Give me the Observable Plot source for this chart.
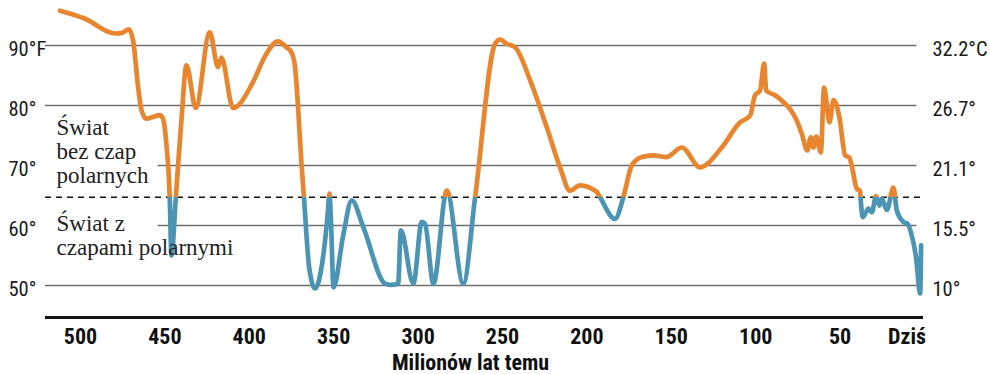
<!DOCTYPE html>
<html><head><meta charset="utf-8">
<script src="https://cdn.jsdelivr.net/npm/d3@7"></script>
<script src="https://cdn.jsdelivr.net/npm/@observablehq/plot@0.6"></script>
<style>
body{margin:0;background:#fff;}
</style>
</head><body><div id="chart"></div>
<script>
// Age (millions of years ago) and temperature (°F)
const ageMa = [512.1,497.6,479.5,475.4,471.3,468.8,465.8,463.8,460.9,457.0,453.0,451.1,449.1,447.1,446.1,443.5,440.2,437.2,431.7,423.4,418.5,416.5,409.6,406.6,397.8,389.9,383.0,378.0,375.1,373.1,371.2,369.2,367.6,364.5,361.0,357.5,353.5,352.5,351.5,350.1,344.2,339.3,332.4,319.6,316.6,311.8,310.2,302.8,297.8,295.9,290.9,283.0,273.2,266.2,254.4,251.4,247.5,242.5,233.6,223.8,215.9,210.0,204.1,194.1,192.2,183.3,178.4,173.4,167.5,160.6,152.7,143.8,132.9,120.1,109.2,103.3,100.4,97.4,95.0,93.8,88.5,82.6,79.6,75.7,72.7,69.4,67.4,65.8,64.2,61.4,59.5,56.3,53.9,50.4,47.0,44.5,43.1,40.1,38.2,37.9,36.6,33.2,31.2,28.7,26.7,25.3,22.3,18.4,16.4,12.5,10.1,7.5,5.0,2.6,2.0];
const tempF = [95.8,94.5,92.0,92.1,92.7,90.8,83.0,79.2,77.8,78.1,78.4,77.8,73.6,64.7,55.0,64.7,77.5,86.7,79.6,92.2,86.4,88.0,79.6,80.0,83.9,88.6,90.7,89.7,88.9,86.9,80.3,70.8,64.7,53.0,49.5,52.5,62.0,65.3,60.0,49.7,58.6,64.2,59.7,50.3,50.1,50.3,59.2,50.3,60.6,60.3,50.3,65.8,50.3,64.7,90.3,91.0,90.3,89.7,84.2,76.4,69.7,65.8,66.7,65.6,64.7,61.1,64.7,70.0,71.4,71.7,71.4,73.0,69.7,73.0,77.2,78.3,81.7,82.5,87.0,82.5,81.7,80.3,79.4,77.5,75.3,72.5,74.7,73.0,74.8,72.2,83.0,77.2,80.9,78.0,71.7,71.3,70.0,66.1,65.8,64.7,61.4,62.8,62.2,64.9,63.3,64.5,62.6,66.3,62.5,60.6,60.3,58.3,54.7,48.7,56.7];

const threshold = 64.7;               // polar ice cap threshold (dashed line)
const leftTicks = [90, 80, 70, 60, 50];
const leftTickLabels = ["90°F", "80°", "70°", "60°", "50°"];
const rightTickLabels = ["32.2°C", "26.7°", "21.1°", "15.5°", "10°"];
const fullGridTicks = [90, 80, 50];
const partGridTicks = [70, 60];
const xTicks = [500, 450, 400, 350, 300, 250, 200, 150, 100, 50];
const xTodayLabel = "Dziś";
const xTitle = "Milionów lat temu";
const noteAbove = "Świat\nbez czap\npolarnych";
const noteBelow = "Świat z\nczapami polarnymi";

const xDomain = [520.7, 0];
const yDomain = [44.67, 97.5];

const data = ageMa.map((a, i) => ({age: a, temp: tempF[i]}));

const sans = "'Liberation Sans Narrow', 'Roboto Condensed', Roboto, sans-serif";
const serif = "'Liberation Serif', 'DejaVu Serif', serif";

const chart = Plot.plot({
  width: 990,
  height: 374,
  marginLeft: 45,
  marginRight: 66,
  marginTop: 0,
  marginBottom: 57,
  x: {domain: xDomain, axis: null},
  y: {domain: yDomain, axis: null},
  style: {background: "white", fontFamily: sans},
  marks: [
    Plot.ruleY(fullGridTicks, {x1: xDomain[0], x2: 4.5, stroke: "#6f6f6f", strokeWidth: 1.5}),
    Plot.ruleY(partGridTicks, {x1: 454, x2: 4.5, stroke: "#6f6f6f", strokeWidth: 1.5}),
    Plot.ruleY([threshold], {x1: xDomain[0], x2: 0.8, stroke: "#111", strokeWidth: 1.5, strokeDasharray: "6,5"}),
    Plot.ruleY([yDomain[0]], {x1: xDomain[0], x2: 0.6, stroke: "#111", strokeWidth: 3}),
    Plot.line(data, {x: "age", y: "temp", stroke: "url(#tempGrad)", strokeWidth: 4.7, curve: "monotone-x", strokeLinejoin: "round", strokeLinecap: "round"}),
    Plot.text(leftTicks, {y: d => d, text: (d, i) => leftTickLabels[i], frameAnchor: "left", textAnchor: "start", lineAnchor: "bottom", dx: -37, dy: 10, fontSize: 20.5, fill: "#1a1a1a"}),
    Plot.text(leftTicks, {y: d => d, text: (d, i) => rightTickLabels[i], frameAnchor: "right", textAnchor: "start", lineAnchor: "bottom", dx: 8, dy: 10, fontSize: 20.5, fill: "#1a1a1a"}),
    Plot.text(xTicks, {x: d => d, text: d => String(d), frameAnchor: "bottom", lineAnchor: "bottom", dy: 26, fontSize: 22, fontWeight: "bold", fill: "#111"}),
    Plot.text([0], {x: d => d, text: () => xTodayLabel, frameAnchor: "bottom", textAnchor: "end", lineAnchor: "bottom", dx: 1.5, dy: 26, fontSize: 22, fontWeight: "bold", fill: "#111"}),
    Plot.text([xTitle], {text: d => d, frameAnchor: "bottom", lineAnchor: "bottom", dx: -14.5, dy: 52, fontSize: 22, fontWeight: "bold", fill: "#111"}),
    Plot.text([noteAbove], {text: d => d, y: threshold, frameAnchor: "left", textAnchor: "start", lineAnchor: "bottom", dx: 11, dy: -14, fontSize: 23, lineHeight: 1.04, fontFamily: serif, fill: "#222"}),
    Plot.text([noteBelow], {text: d => d, y: threshold, frameAnchor: "left", textAnchor: "start", lineAnchor: "top", dx: 11, dy: 17, fontSize: 23, lineHeight: 1.04, fontFamily: serif, fill: "#222"})
  ]
});

// Two-colour stroke split at the threshold
const yT = chart.scale("y").apply(threshold);
const svgNS = "http://www.w3.org/2000/svg";
const defs = document.createElementNS(svgNS, "defs");
const grad = document.createElementNS(svgNS, "linearGradient");
grad.setAttribute("id", "tempGrad");
grad.setAttribute("gradientUnits", "userSpaceOnUse");
grad.setAttribute("x1", 0); grad.setAttribute("x2", 0);
grad.setAttribute("y1", 0); grad.setAttribute("y2", 374);
const off = yT / 374;
[[0, "#e8852f"], [off, "#e8852f"], [off, "#4b94b4"], [1, "#4b94b4"]].forEach(([o, c]) => {
  const s = document.createElementNS(svgNS, "stop");
  s.setAttribute("offset", o);
  s.setAttribute("stop-color", c);
  grad.appendChild(s);
});
defs.appendChild(grad);
chart.insertBefore(defs, chart.firstChild);

document.getElementById("chart").appendChild(chart);
</script>
</body></html>
